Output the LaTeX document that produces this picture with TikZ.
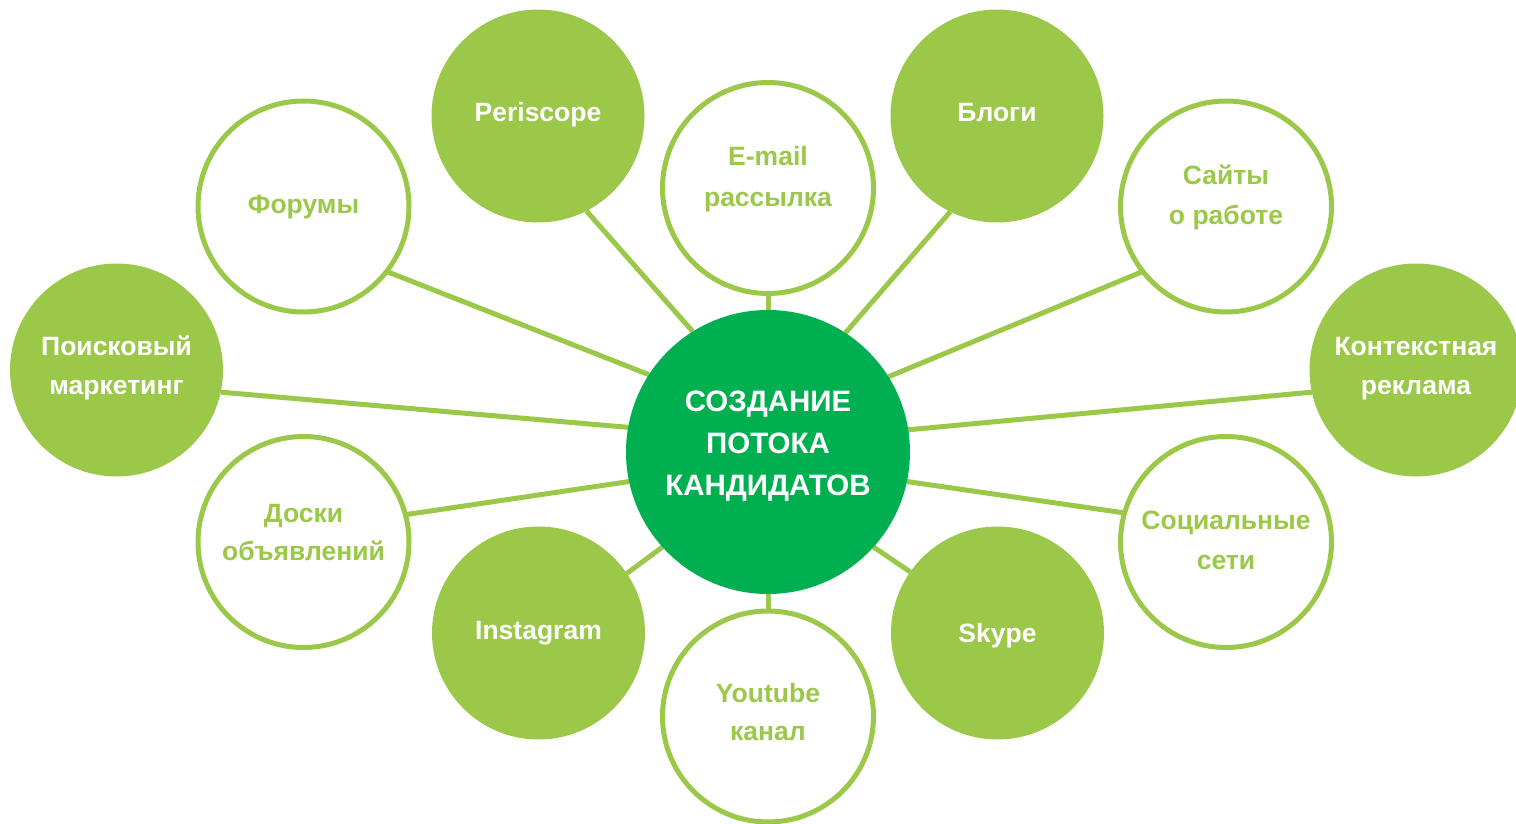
\documentclass[tikz,border=0pt]{standalone}
\usepackage{fontspec}
\setmainfont{Liberation Sans}
\pgfdeclarelayer{background}
\pgfsetlayers{background,main}
\definecolor{lgreen}{RGB}{155,200,72}
\definecolor{dgreen}{RGB}{0,176,80}
\tikzset{
  hub/.style={circle, fill=dgreen, minimum size=284pt, inner sep=0pt, outer sep=0pt},
  fillc/.style={circle, fill=lgreen, minimum size=213pt, inner sep=0pt, outer sep=0pt},
  ringc/.style={circle, draw=lgreen, line width=5pt, fill=white, minimum size=211pt, inner sep=0pt, outer sep=0pt},
  link/.style={draw=lgreen, line width=5pt},
  wtxt/.style={text=white, font=\fontsize{26.5}{39}\selectfont\bfseries, anchor=base, inner sep=0pt, yshift=-2pt},
  gtxt/.style={text=lgreen, font=\fontsize{26.5}{39}\selectfont\bfseries, anchor=base, inner sep=0pt, yshift=-2pt},
  htxt/.style={text=white, font=\fontsize{29.5}{42}\selectfont\bfseries, anchor=base, inner sep=0pt, yshift=-1pt}
}
\begin{document}
\begin{tikzpicture}[x=1pt, y=-1pt]
\useasboundingbox (0,0) rectangle (1516,824);
% circles
\node[hub]   (ctr)     at (768,452) {};
\node[fillc] (per)     at (538,116) {};
\node[fillc] (blog)    at (997,116) {};
\node[ringc] (mail)    at (768,188) {};
\node[ringc] (forum)   at (303.5,206.5) {};
\node[ringc] (sites)   at (1226,206.5) {};
\node[fillc] (search)  at (116.5,370) {};
\node[fillc] (context) at (1416,370) {};
\node[ringc] (boards)  at (303.5,542) {};
\node[ringc] (social)  at (1226,542) {};
\node[fillc] (insta)   at (538.5,633) {};
\node[fillc] (skype)   at (997.5,633) {};
\node[ringc] (yt)      at (768,716.5) {};
% connectors
\begin{pgfonlayer}{background}
\draw[link] (ctr.147.7) -- (forum.-38);
\draw[link] (ctr.122.3) -- (per.-63.2);
\draw[link] (ctr.170.3) -- (search.-12.6);
\draw[link] (ctr.192.7) -- (boards.15.4);
\draw[link] (ctr.222.4) -- (insta.34.1);
\draw[link] (ctr.270) -- (yt.90);
\draw[link] (ctr.90) -- (mail.-90);
\draw[link] (ctr.57.7) -- (blog.-116.8);
\draw[link] (ctr.32.3) -- (sites.-142);
\draw[link] (ctr.9.7) -- (context.192.6);
\draw[link] (ctr.-12.7) -- (social.164.6);
\draw[link] (ctr.-42.4) -- (skype.145.9);
\end{pgfonlayer}
% labels
\node[htxt] (ctr-a) at (768,410) {СОЗДАНИЕ};
\node[htxt] (ctr-b) at (768,452) {ПОТОКА};
\node[htxt] (ctr-c) at (768,494) {КАНДИДАТОВ};
\node[wtxt] (per-a) at (538,120) {Periscope};
\node[wtxt] (blog-a) at (997,120) {Блоги};
\node[gtxt] (mail-a) at (768,164) {E-mail};
\node[gtxt] (mail-b) at (768,204) {рассылка};
\node[gtxt] (forum-a) at (303.5,211) {Форумы};
\node[gtxt] (sites-a) at (1226,183) {Сайты};
\node[gtxt] (sites-b) at (1226,222) {о работе};
\node[wtxt] (search-a) at (116.5,353) {Поисковый};
\node[wtxt] (search-b) at (116.5,392) {маркетинг};
\node[wtxt] (context-a) at (1416,353) {Контекстная};
\node[wtxt] (context-b) at (1416,392) {реклама};
\node[gtxt] (boards-a) at (303.5,520) {Доски};
\node[gtxt] (boards-b) at (303.5,558) {объявлений};
\node[gtxt] (social-a) at (1226,527) {Социальные};
\node[gtxt] (social-b) at (1226,567) {сети};
\node[wtxt] (insta-a) at (538.5,637) {Instagram};
\node[wtxt] (skype-a) at (997.5,640) {Skype};
\node[gtxt] (yt-a) at (768,700) {Youtube};
\node[gtxt] (yt-b) at (768,738) {канал};
\end{tikzpicture}
\end{document}
